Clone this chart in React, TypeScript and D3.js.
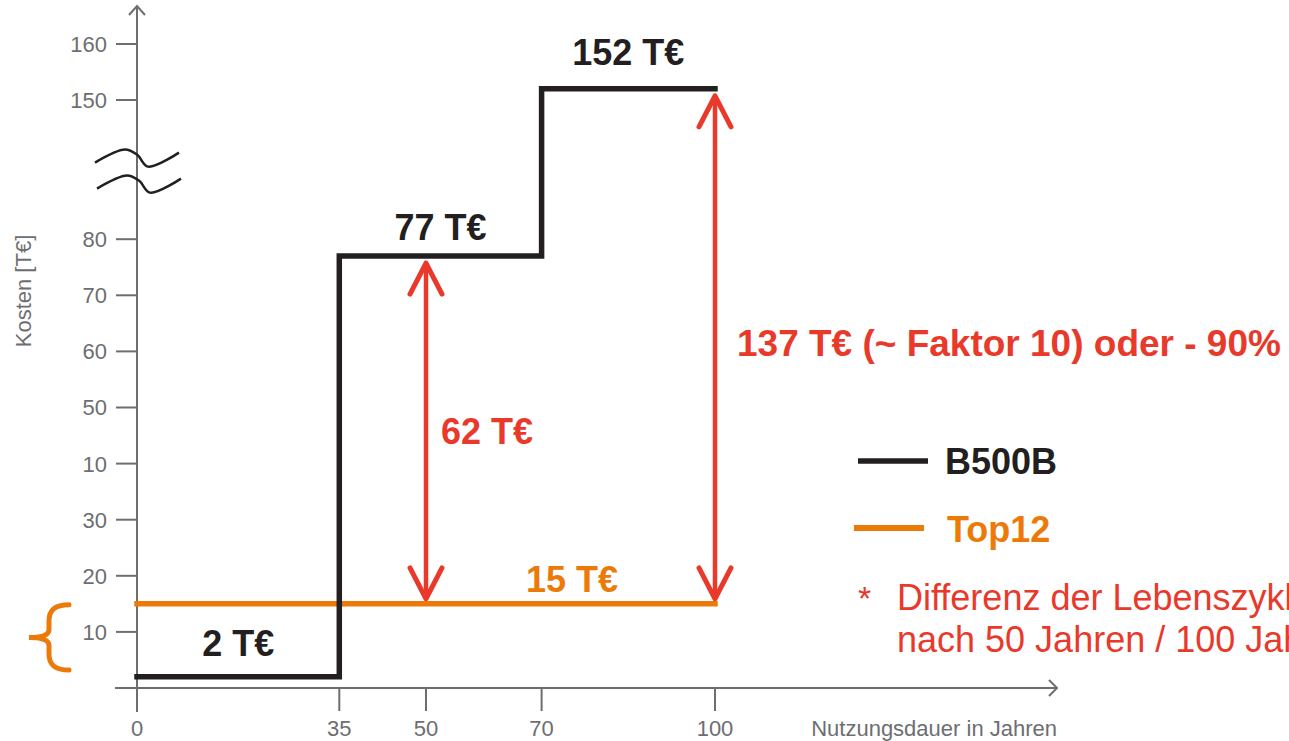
import React from "react";
import * as d3 from "d3";

// Lifetime cost steps (T€) over service life (years)
const b500bYears = [0, 35, 70, 100];
const b500bCosts = [2, 77, 152, 152];
const top12Years = [0, 100];
const top12Costs = [15, 15];

const xTicks = [0, 35, 50, 70, 100];
const yTicksLower = [10, 20, 30, 40, 50, 60, 70, 80];
const yTickLabelsLower = ["10", "20", "30", "10", "50", "60", "70", "80"];
const yTicksUpper = [150, 160];
const yTickLabelsUpper = ["150", "160"];

const diffYears = [50, 100];
const diffTop = [77, 152];
const diffBase = 15;

const W = 1289;
const H = 741;
const BLACK = "#231f20";
const ORANGE = "#ec7a08";
const RED = "#e8392b";
const AXIS = "#6d6e71";
const FONT = "'Liberation Sans', Arial, Helvetica, sans-serif";

const x = d3.scaleLinear().domain([0, 100]).range([137, 715]);
const yLower = d3.scaleLinear().domain([0, 80]).range([688, 239.2]);
const yUpper = d3.scaleLinear().domain([150, 160]).range([100, 44]);
const y = (v: number) => (v > 100 ? yUpper(v) : yLower(v));

function ArrowHead({ cx, cy, dir }: { cx: number; cy: number; dir: number }) {
  // dir = -1 points up, +1 points down
  const p = d3.path();
  p.moveTo(cx - 16, cy - dir * 31);
  p.lineTo(cx, cy);
  p.lineTo(cx + 16, cy - dir * 31);
  return (
    <path d={p.toString()} fill="none" stroke={RED} strokeWidth={5} strokeLinecap="round" strokeLinejoin="round" />
  );
}

export default function App() {
  const stepLine = d3
    .line<number>()
    .x((_, i) => x(b500bYears[i]))
    .y((d) => y(d))
    .curve(d3.curveStepAfter);
  const flatLine = d3
    .line<number>()
    .x((_, i) => x(top12Years[i]))
    .y((d) => y(d));

  const axisX0 = 137;
  const axisY0 = yLower(0);

  // axis break waves
  const wave = d3
    .line<[number, number]>()
    .curve(d3.curveCatmullRom.alpha(0.5));
  const wavePts: [number, number][] = [
    [-42, 5],
    [-12, -8],
    [0, -3],
    [11, 9],
    [42, -5],
  ];
  const breakMid = (yLower(80) + yUpper(150)) / 2;
  const wave1 = wave(wavePts.map(([a, b]) => [axisX0 + a, breakMid - 12 + b] as [number, number]));
  const wave2 = wave(wavePts.map(([a, b]) => [axisX0 + a + 2, breakMid + 14 + b] as [number, number]));

  // orange brace at the low cost range
  const braceTop = y(15) + 1;
  const braceBot = y(3.2);
  const bc = (braceTop + braceBot) / 2;
  const hh = (braceBot - braceTop) / 2;
  const bx = 29;
  const brace = `M ${bx + 40},${bc - hh} C ${bx + 25},${bc - hh} ${bx + 20},${bc - hh + 6} ${bx + 20},${bc - hh + 16}
    L ${bx + 20},${bc - 8} C ${bx + 20},${bc - 2} ${bx + 12},${bc} ${bx},${bc}
    C ${bx + 12},${bc} ${bx + 20},${bc + 2} ${bx + 20},${bc + 8}
    L ${bx + 20},${bc + hh - 16} C ${bx + 20},${bc + hh - 6} ${bx + 25},${bc + hh} ${bx + 40},${bc + hh}`;

  return (
    <svg
      width={W}
      height={H}
      style={{ position: "absolute", left: 0, top: 0, background: "#fff" }}
      fontFamily={FONT}
    >
      {/* y axis */}
      <line x1={axisX0} x2={axisX0} y1={6} y2={712} stroke={AXIS} strokeWidth={2} />
      <path d={`M ${axisX0 - 8},${15} L ${axisX0},${6} L ${axisX0 + 8},${15}`} fill="none" stroke={AXIS} strokeWidth={2} />
      {yTicksLower.map((t, i) => (
        <g key={`yl${t}`}>
          <line x1={116} x2={axisX0} y1={yLower(t)} y2={yLower(t)} stroke={AXIS} strokeWidth={2} />
          <text x={107} y={yLower(t)} dy="0.36em" textAnchor="end" fontSize={22} fill={AXIS}>
            {yTickLabelsLower[i]}
          </text>
        </g>
      ))}
      {yTicksUpper.map((t, i) => (
        <g key={`yu${t}`}>
          <line x1={116} x2={axisX0} y1={yUpper(t)} y2={yUpper(t)} stroke={AXIS} strokeWidth={2} />
          <text x={107} y={yUpper(t)} dy="0.36em" textAnchor="end" fontSize={22} fill={AXIS}>
            {yTickLabelsUpper[i]}
          </text>
        </g>
      ))}
      <text transform={`translate(31, 291) rotate(-90)`} textAnchor="middle" fontSize={22} fill={AXIS}>
        Kosten [T€]
      </text>

      {/* axis break */}
      <path d={wave1 || ""} fill="none" stroke={BLACK} strokeWidth={2.5} />
      <path d={wave2 || ""} fill="none" stroke={BLACK} strokeWidth={2.5} />

      {/* x axis */}
      <line x1={115} x2={1057} y1={axisY0} y2={axisY0} stroke={AXIS} strokeWidth={2} />
      <path d={`M 1049,${axisY0 - 8} L 1057,${axisY0} L 1049,${axisY0 + 8}`} fill="none" stroke={AXIS} strokeWidth={2} />
      {xTicks.map((t) => (
        <g key={`x${t}`}>
          <line x1={x(t)} x2={x(t)} y1={axisY0} y2={axisY0 + 23} stroke={AXIS} strokeWidth={2} />
          <text x={x(t)} y={736} textAnchor="middle" fontSize={22} fill={AXIS}>
            {t}
          </text>
        </g>
      ))}
      <text x={1057} y={736} textAnchor="end" fontSize={22} fill={AXIS}>
        Nutzungsdauer in Jahren
      </text>

      {/* series */}
      <path d={flatLine(top12Costs) || ""} fill="none" stroke={ORANGE} strokeWidth={5.5} strokeLinecap="square" />
      <path
        d={stepLine(b500bCosts) || ""}
        fill="none"
        stroke={BLACK}
        strokeWidth={5.5}
        strokeLinecap="square"
        strokeLinejoin="miter"
      />

      {/* brace */}
      <path d={brace} fill="none" stroke={ORANGE} strokeWidth={5} strokeLinecap="round" />

      {/* difference arrows */}
      {diffYears.map((yr, i) => {
        const top = y(diffTop[i]) + 7;
        const bot = y(diffBase) - 5;
        return (
          <g key={`d${yr}`}>
            <line x1={x(yr)} x2={x(yr)} y1={top + 2} y2={bot - 2} stroke={RED} strokeWidth={4.5} />
            <ArrowHead cx={x(yr)} cy={top} dir={-1} />
            <ArrowHead cx={x(yr)} cy={bot} dir={1} />
          </g>
        );
      })}

      {/* value labels */}
      <g fontWeight="bold" fontSize={36}>
        <text x={x(17.5)} y={656} textAnchor="middle" fill={BLACK}>
          {`${b500bCosts[0]} T€`}
        </text>
        <text x={x(52.5)} y={240} textAnchor="middle" fill={BLACK}>
          {`${b500bCosts[1]} T€`}
        </text>
        <text x={x(85)} y={65} textAnchor="middle" fill={BLACK}>
          {`${b500bCosts[2]} T€`}
        </text>
        <text x={572} y={592} textAnchor="middle" fill={ORANGE}>
          {`${top12Costs[0]} T€`}
        </text>
        <text x={441} y={444} fill={RED}>
          {`${diffTop[0] - diffBase} T€`}
        </text>
        <text x={737} y={356} fill={RED} fontSize={37}>
          {`${diffTop[1] - diffBase} T€ (~ Faktor 10) oder - 90%`}
        </text>
      </g>

      {/* legend */}
      <line x1={858} x2={928} y1={461} y2={461} stroke={BLACK} strokeWidth={5.5} />
      <text x={945} y={474} fontSize={36} fontWeight="bold" fill={BLACK}>
        B500B
      </text>
      <line x1={854} x2={924} y1={528} y2={528} stroke={ORANGE} strokeWidth={6} />
      <text x={947} y={542} fontSize={36} fontWeight="bold" fill={ORANGE}>
        Top12
      </text>
      <text x={858} y={610} fontSize={34} fill={RED}>
        *
      </text>
      <text x={897} y={610} fontSize={36} fill={RED}>
        Differenz der Lebenszykluskosten
      </text>
      <text x={897} y={652} fontSize={36} fill={RED}>
        nach 50 Jahren / 100 Jahren
      </text>
    </svg>
  );
}
